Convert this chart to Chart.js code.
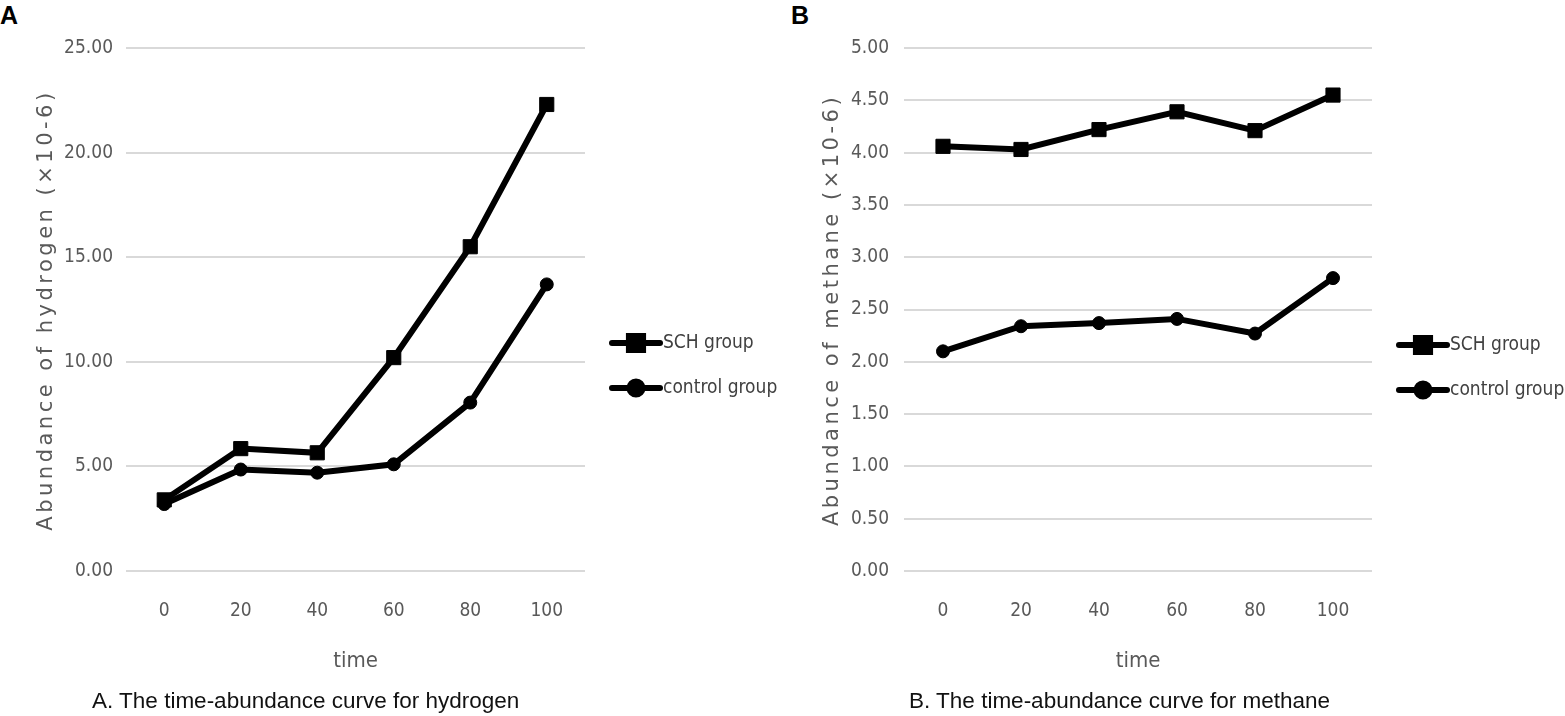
<!DOCTYPE html>
<html>
<head>
<meta charset="utf-8">
<title>time-abundance curves</title>
<script src="https://cdn.jsdelivr.net/npm/chart.js@4.4.0/dist/chart.umd.min.js"></script>
<style>
  body { margin: 0; background: #fff; width: 1565px; height: 716px; overflow: hidden; position: relative; font-family: "Liberation Sans", Arial, sans-serif; }
  .panel { position: absolute; top: 0; height: 716px; }
  .tag { position: absolute; top: 1px; font-weight: bold; font-size: 25px; color: #000; }
  .caption { position: absolute; top: 688px; font-size: 22.5px; color: #111; white-space: nowrap; }
</style>
</head>
<body>

<div class="tag" style="left:0px">A</div>
<div class="tag" style="left:791px">B</div>

<div class="panel" style="left:0px;width:790px"><canvas id="hydrogenChart"></canvas></div>
<div class="panel" style="left:790px;width:775px"><canvas id="methaneChart"></canvas></div>

<div class="caption" style="left:92px">A. The time-abundance curve for hydrogen</div>
<div class="caption" style="left:909px">B. The time-abundance curve for methane</div>

<script>
// data
const timeLabels = ['0', '20', '40', '60', '80', '100'];
const seriesNames = ['SCH group', 'control group'];

const hydrogenSCH = [3.4, 5.85, 5.65, 10.2, 15.5, 22.3];
const hydrogenControl = [3.2, 4.85, 4.7, 5.1, 8.05, 13.7];

const methaneSCH = [4.06, 4.03, 4.22, 4.39, 4.21, 4.55];
const methaneControl = [2.10, 2.34, 2.37, 2.41, 2.27, 2.80];

const tickFont = '"Liberation Sans Narrow", "DejaVu Sans Condensed", sans-serif';
const grayText = '#595959';

// rotated y title with letter spacing (Chart.js title can't do spacing)
const sideTitle = {
  id: 'sideTitle',
  afterDraw(chart, args, opts) {
    const ctx = chart.ctx;
    ctx.save();
    ctx.font = opts.size + 'px "DejaVu Sans", sans-serif';
    ctx.fillStyle = grayText;
    if ('letterSpacing' in ctx) ctx.letterSpacing = opts.spacing + 'px';
    ctx.textAlign = 'center';
    ctx.textBaseline = 'middle';
    ctx.translate(opts.x, opts.y);
    ctx.rotate(-Math.PI / 2);
    ctx.fillText(opts.text, 0, 0);
    ctx.restore();
  }
};

// legend: line with marker, like the spreadsheet original
const lineLegend = {
  id: 'lineLegend',
  afterDraw(chart, args, opts) {
    const ctx = chart.ctx;
    ctx.save();
    chart.data.datasets.forEach(function(ds, i) {
      const y = opts.y[i];
      ctx.strokeStyle = ds.borderColor;
      ctx.lineWidth = ds.borderWidth;
      ctx.lineCap = 'round';
      ctx.beginPath();
      ctx.moveTo(opts.x, y);
      ctx.lineTo(opts.x + opts.len, y);
      ctx.stroke();
      Chart.helpers.drawPoint(ctx, {
        pointStyle: ds.pointStyle,
        radius: ds.pointRadius,
        borderWidth: 1
      }, opts.x + opts.len / 2, y);
      ctx.fillStyle = ds.borderColor;
      ctx.fill();
      ctx.fillStyle = '#404040';
      ctx.font = '19px ' + tickFont;
      ctx.textAlign = 'left';
      ctx.textBaseline = 'middle';
      ctx.fillText(ds.label, opts.x + opts.len + 3, y);
    });
    ctx.restore();
  }
};

function makeDatasets(sch, control) {
  return [{
    label: seriesNames[0],
    data: sch,
    borderColor: '#000',
    backgroundColor: '#000',
    borderWidth: 6,
    pointStyle: 'rect',
    pointRadius: 10,
    pointBackgroundColor: '#000',
    pointBorderColor: '#000',
    pointBorderWidth: 1,
    tension: 0
  }, {
    label: seriesNames[1],
    data: control,
    borderColor: '#000',
    backgroundColor: '#000',
    borderWidth: 6,
    pointStyle: 'circle',
    pointRadius: 6.5,
    pointBackgroundColor: '#000',
    pointBorderColor: '#000',
    pointBorderWidth: 1,
    tension: 0
  }];
}

function makeChart(canvasId, sch, control, cfg) {
  return new Chart(document.getElementById(canvasId), {
    type: 'line',
    data: { labels: timeLabels, datasets: makeDatasets(sch, control) },
    plugins: [sideTitle, lineLegend],
    options: {
      responsive: true,
      maintainAspectRatio: false,
      animation: false,
      layout: { padding: { top: 48, left: 0, right: cfg.padRight, bottom: 36 } },
      scales: {
        x: {
          offset: true,
          grid: { display: false, drawTicks: false },
          border: { display: false },
          ticks: { color: grayText, font: { family: tickFont, size: 19 }, padding: 29 },
          title: {
            display: true,
            text: 'time',
            color: grayText,
            font: { family: tickFont, size: 22 },
            padding: { top: 0, bottom: 6 }
          },
          afterFit(scale) { scale.height = 109; }
        },
        y: {
          min: 0,
          max: cfg.yMax,
          grid: { color: '#d9d9d9', lineWidth: 2, drawTicks: false },
          border: { display: false },
          ticks: {
            stepSize: cfg.step,
            color: grayText,
            font: { family: tickFont, size: 19 },
            padding: cfg.tickPad,
            callback: function(v) { return v.toFixed(2); }
          },
          afterFit(scale) { scale.width = cfg.axisWidth; }
        }
      },
      plugins: {
        legend: { display: false },
        tooltip: { enabled: false },
        sideTitle: { text: cfg.yTitle, x: cfg.titleX, y: 310, size: 21, spacing: 3.5 },
        lineLegend: { x: cfg.legendX, y: cfg.legendY, len: 48 }
      }
    }
  });
}

makeChart('hydrogenChart', hydrogenSCH, hydrogenControl, {
  yMax: 25, step: 5, padRight: 205, axisWidth: 126, tickPad: 13,
  yTitle: 'Abundance of hydrogen (×10-6)', titleX: 47,
  legendX: 612, legendY: [343, 388]
});

makeChart('methaneChart', methaneSCH, methaneControl, {
  yMax: 5, step: 0.5, padRight: 193, axisWidth: 114, tickPad: 15,
  yTitle: 'Abundance of methane (×10-6)', titleX: 43,
  legendX: 609, legendY: [345, 390]
});
</script>
</body>
</html>
